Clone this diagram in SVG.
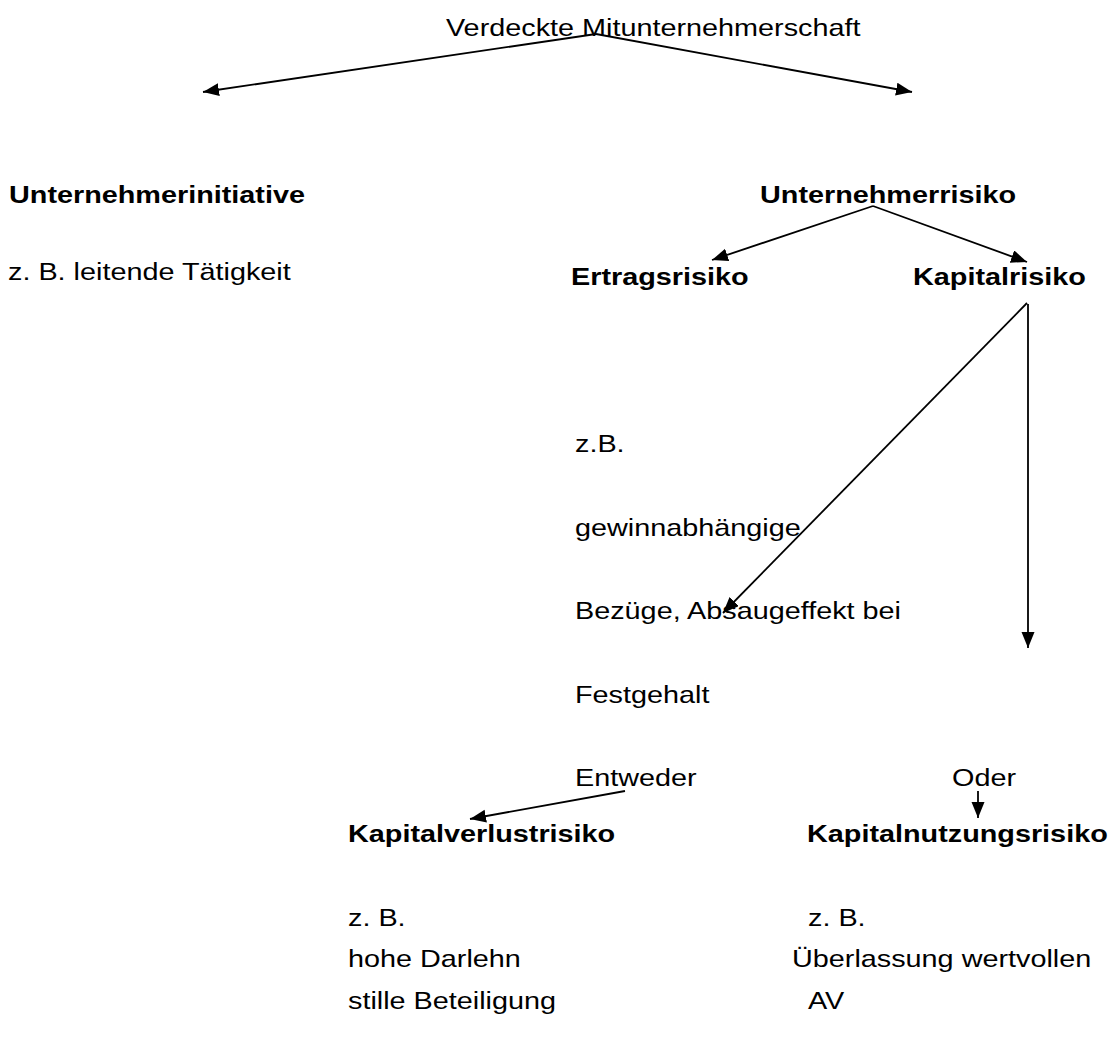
<svg xmlns="http://www.w3.org/2000/svg" width="1116" height="1057" viewBox="0 0 1116 1057">
<style>
text{font-family:"Liberation Sans",Arial,sans-serif;font-size:24px;fill:#000}
.b{font-weight:bold}
#connectors line{stroke:#000;stroke-width:1.8;fill:none}
</style>
<defs>
<marker id="ah" markerUnits="userSpaceOnUse" markerWidth="18" markerHeight="14" refX="16" refY="6.5" orient="auto">
<path d="M0,0 L16,6.5 L0,13 z" fill="#000"/>
</marker>
</defs>
<rect width="1116" height="1057" fill="#fff"/>
<g id="connectors">
<line x1="596" y1="34" x2="203" y2="92" marker-end="url(#ah)"/>
<line x1="596" y1="34" x2="912" y2="92" marker-end="url(#ah)"/>
<line x1="873" y1="206" x2="712" y2="260" marker-end="url(#ah)"/>
<line x1="873" y1="206" x2="1027" y2="262" marker-end="url(#ah)"/>
<line x1="1027" y1="303" x2="723" y2="613" marker-end="url(#ah)"/>
<line x1="1028" y1="304" x2="1028" y2="648" marker-end="url(#ah)"/>
<line x1="625" y1="791" x2="470" y2="819" marker-end="url(#ah)"/>
<line x1="978" y1="791" x2="978" y2="818" marker-end="url(#ah)"/>
</g>
<g id="n-title"><text transform="translate(446,36) scale(1.2,1)">Verdeckte Mitunternehmerschaft</text></g>
<g id="n-initiative">
<text class="b" transform="translate(9,203) scale(1.2,1)">Unternehmerinitiative</text>
<text transform="translate(8,280) scale(1.2,1)">z. B. leitende Tätigkeit</text>
</g>
<g id="n-risiko"><text class="b" transform="translate(760,203) scale(1.2,1)">Unternehmerrisiko</text></g>
<g id="n-ertrag">
<text class="b" transform="translate(571,285) scale(1.2,1)">Ertragsrisiko</text>
<text transform="translate(575,452) scale(1.2,1)">z.B.</text>
<text transform="translate(575,536) scale(1.2,1)">gewinnabhängige</text>
<text transform="translate(575,619) scale(1.2,1)">Bezüge, Absaugeffekt bei</text>
<text transform="translate(575,703) scale(1.2,1)">Festgehalt</text>
</g>
<g id="n-kapital"><text class="b" transform="translate(913,285) scale(1.2,1)">Kapitalrisiko</text></g>
<g id="n-entweder"><text transform="translate(575,786) scale(1.2,1)">Entweder</text></g>
<g id="n-oder"><text transform="translate(952,786) scale(1.2,1)">Oder</text></g>
<g id="n-verlust">
<text class="b" transform="translate(348,842) scale(1.2,1)">Kapitalverlustrisiko</text>
<text transform="translate(348,926) scale(1.2,1)">z. B.</text>
<text transform="translate(348,967) scale(1.2,1)">hohe Darlehn</text>
<text transform="translate(348,1009) scale(1.2,1)">stille Beteiligung</text>
</g>
<g id="n-nutzung">
<text class="b" transform="translate(807,842) scale(1.2,1)">Kapitalnutzungsrisiko</text>
<text transform="translate(808,926) scale(1.2,1)">z. B.</text>
<text transform="translate(792,967) scale(1.2,1)">Überlassung wertvollen</text>
<text transform="translate(808,1009) scale(1.2,1)">AV</text>
</g>
</svg>
